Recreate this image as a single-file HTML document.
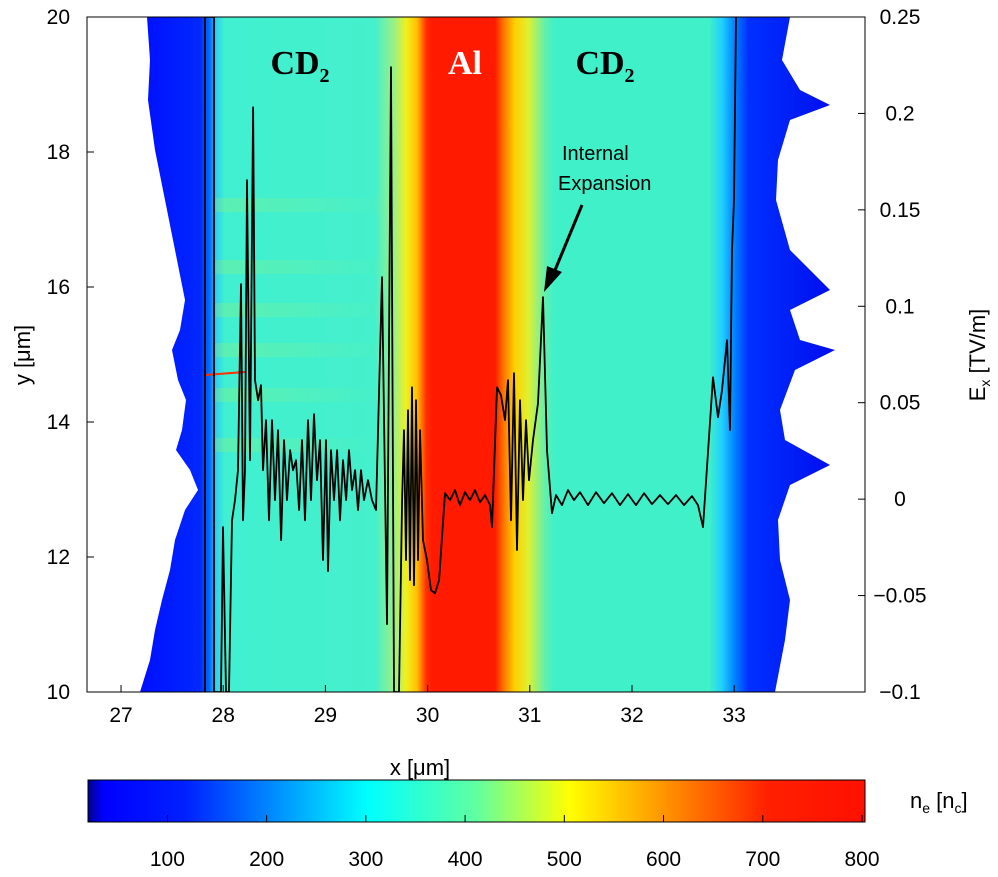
<!DOCTYPE html>
<html><head><meta charset="utf-8"><style>
html,body{margin:0;padding:0;background:#fff;}
svg{display:block;font-family:"Liberation Sans",sans-serif;}
</style></head><body>
<svg id="chart" width="998" height="877" viewBox="0 0 998 877">
<defs>
<linearGradient id="dens" gradientUnits="userSpaceOnUse" x1="87" y1="0" x2="865" y2="0">
<stop offset="0.075" stop-color="#0010ff"/><stop offset="0.145" stop-color="#0028ff"/>
<stop offset="0.158" stop-color="#0070ff"/><stop offset="0.166" stop-color="#30d0f0"/>
<stop offset="0.177" stop-color="#40f0d0"/><stop offset="0.37" stop-color="#45f0cc"/>
<stop offset="0.396" stop-color="#a0f080"/><stop offset="0.41" stop-color="#f0f020"/>
<stop offset="0.424" stop-color="#ffc000"/><stop offset="0.436" stop-color="#ff3000"/>
<stop offset="0.444" stop-color="#ff1a00"/><stop offset="0.524" stop-color="#ff1a00"/>
<stop offset="0.537" stop-color="#ff8000"/><stop offset="0.55" stop-color="#ffd000"/>
<stop offset="0.567" stop-color="#e0f030"/><stop offset="0.589" stop-color="#60f0b0"/>
<stop offset="0.601" stop-color="#40f0c8"/><stop offset="0.8" stop-color="#40f0c8"/>
<stop offset="0.816" stop-color="#20d0ff"/><stop offset="0.833" stop-color="#0080ff"/>
<stop offset="0.85" stop-color="#0030ff"/><stop offset="0.95" stop-color="#0010f0"/>
</linearGradient>
<linearGradient id="band" x1="0" y1="0" x2="1" y2="0">
<stop offset="0" stop-color="#c8f040" stop-opacity="0.6"/><stop offset="1" stop-color="#c8f040" stop-opacity="0"/>
</linearGradient>
<linearGradient id="jet" x1="0" y1="0" x2="1" y2="0">
<stop offset="0" stop-color="#00008f"/><stop offset="0.02" stop-color="#0000ff"/>
<stop offset="0.125" stop-color="#0020ff"/><stop offset="0.36" stop-color="#00ffff"/>
<stop offset="0.5" stop-color="#60ffa0"/><stop offset="0.62" stop-color="#ffff00"/>
<stop offset="0.875" stop-color="#ff2000"/><stop offset="1" stop-color="#ff1000"/>
</linearGradient>
<clipPath id="plotclip"><rect x="87" y="17" width="778" height="675"/></clipPath>
</defs>
<g clip-path="url(#plotclip)">
<rect x="87" y="17" width="778" height="675" fill="url(#dens)"/>
<g opacity="0.35">
<rect x="215" y="198" width="180" height="14" fill="url(#band)"/>
<rect x="215" y="260" width="180" height="14" fill="url(#band)"/>
<rect x="215" y="303" width="180" height="14" fill="url(#band)"/>
<rect x="215" y="343" width="180" height="14" fill="url(#band)"/>
<rect x="215" y="388" width="170" height="14" fill="url(#band)"/>
<rect x="215" y="438" width="160" height="14" fill="url(#band)"/>
</g>
<line x1="205" y1="375" x2="245" y2="372" stroke="#ff3000" stroke-width="2"/>
<path fill="#fff" d="M87,17 L147,17 L150,60 L148,100 L155,150 L165,200 L175,250 L185,300 L180,330 L172,350 L178,380 L186,400 L182,430 L176,450 L190,470 L198,490 L185,510 L175,540 L170,570 L162,600 L155,630 L150,660 L140,692 L87,692 Z"/>
<path fill="#fff" d="M865,17 L790,17 L782,60 L800,90 L830,105 L790,120 L778,160 L776,200 L790,250 L830,290 L790,310 L800,340 L835,350 L795,370 L780,410 L785,440 L830,465 L790,485 L778,520 L780,560 L790,600 L785,640 L775,692 L865,692 Z"/>
</g>
<rect x="87" y="17" width="778" height="675" fill="none" stroke="#000" stroke-width="1"/>
<g id="trace" clip-path="url(#plotclip)"></g>
<g id="axes"></g>
<text x="300" y="74" font-family="Liberation Serif,serif" font-weight="bold" font-size="34" text-anchor="middle">CD<tspan font-size="20" dy="8">2</tspan></text>
<text x="465" y="74" font-family="Liberation Serif,serif" font-weight="bold" font-size="34" fill="#fff" text-anchor="middle">Al</text>
<text x="605" y="74" font-family="Liberation Serif,serif" font-weight="bold" font-size="34" text-anchor="middle">CD<tspan font-size="20" dy="8">2</tspan></text>
<text x="562" y="160" font-size="20">Internal</text>
<text x="558" y="190" font-size="20">Expansion</text>
<g>
<line x1="582" y1="205" x2="553" y2="275" stroke="#000" stroke-width="3"/>
<polygon points="544,292 547,266 562,272" fill="#000"/>
</g>
<text x="420" y="775" font-size="22" text-anchor="middle">x [μm]</text>
<text transform="translate(30,355) rotate(-90)" font-size="22" text-anchor="middle">y [μm]</text>
<text transform="translate(985,355) rotate(-90)" font-size="22" text-anchor="middle">E<tspan font-size="14" dy="5">x</tspan><tspan dy="-5"> [TV/m]</tspan></text>
<rect x="88" y="780" width="777" height="42" fill="url(#jet)" stroke="#000" stroke-width="1"/>
<g id="cbaxis"></g>
<text x="910" y="808" font-size="22">n<tspan font-size="14" dy="5">e</tspan><tspan dy="-5"> [n</tspan><tspan font-size="14" dy="5">c</tspan><tspan dy="-5">]</tspan></text>
</svg>
<script>
const traceX=[27.822,27.822,27.910,27.910,27.978,27.998,28.027,28.057,28.086,28.115,28.145,28.174,28.194,28.213,28.233,28.262,28.292,28.311,28.341,28.370,28.389,28.419,28.448,28.477,28.507,28.536,28.566,28.595,28.624,28.654,28.683,28.712,28.742,28.771,28.800,28.830,28.859,28.888,28.918,28.947,28.976,29.006,29.025,29.055,29.084,29.114,29.143,29.172,29.202,29.231,29.260,29.290,29.319,29.348,29.378,29.417,29.456,29.495,29.554,29.603,29.642,29.671,29.720,29.750,29.769,29.789,29.808,29.828,29.847,29.867,29.886,29.906,29.926,29.955,29.994,30.033,30.072,30.112,30.170,30.219,30.268,30.317,30.366,30.415,30.464,30.513,30.562,30.611,30.630,30.679,30.718,30.757,30.787,30.816,30.845,30.875,30.904,30.933,30.963,30.992,31.031,31.080,31.129,31.168,31.217,31.256,31.315,31.374,31.432,31.491,31.569,31.648,31.726,31.804,31.883,31.961,32.039,32.118,32.196,32.274,32.352,32.431,32.509,32.587,32.646,32.695,32.793,32.842,32.881,32.930,32.959,32.979,32.998,33.018];
const traceE=[-0.1,0.25,0.25,-0.1,-0.1,-0.0145,-0.1,-0.1,-0.011,-0.0005,0.015,0.1115,-0.011,0.015,0.1654,0.0202,0.2032,0.0617,0.0513,0.0591,0.015,0.041,-0.011,0.041,-0.0005,0.0358,-0.0213,0.0306,-0.0005,0.0254,0.015,0.0202,-0.0057,0.0306,-0.011,0.041,-0.0005,0.0441,0.0098,0.0306,-0.0316,0.0306,-0.0373,0.0254,-0.0005,0.0254,-0.011,0.0202,-0.0005,0.0254,0.0047,0.015,-0.0057,0.015,-0.0005,0.0098,-0.0005,-0.0057,0.1151,-0.0648,0.224,-0.1,-0.1,-0.0005,0.0358,-0.0316,0.0461,-0.042,0.058,-0.0446,0.0513,-0.0316,0.0358,-0.0213,-0.0316,-0.0472,-0.0488,-0.042,0.0031,-0.0005,0.0047,-0.0031,0.0036,-0.0005,0.0047,-0.0016,0.0021,-0.0031,-0.0145,0.058,0.0539,0.041,0.0617,-0.011,0.0653,-0.0264,0.0513,-0.0005,0.041,0.0098,0.0306,0.0498,0.1047,0.0254,-0.0073,0.0021,-0.0031,0.0047,-0.0005,0.0036,-0.0031,0.0036,-0.0021,0.0031,-0.0031,0.0026,-0.0031,0.0031,-0.0026,0.0021,-0.0026,0.0021,-0.0031,0.0016,-0.0031,-0.0145,0.0632,0.0425,0.0565,0.0824,0.0358,0.1291,0.155,0.25];
const xTicks=[27,28,29,30,31,32,33];
const yTicks=[10,12,14,16,18,20];
const eTicks=[-0.1,-0.05,0,0.05,0.1,0.15,0.2,0.25];
const eTickLabels=["\u22120.1","\u22120.05","0","0.05","0.1","0.15","0.2","0.25"];
const cbTicks=[100,200,300,400,500,600,700,800];
const NS="http://www.w3.org/2000/svg";
const L=87,R=865,T=17,B=692;
const X0=26.667,X1=34.28,Y0=10,Y1=20,E0=-0.1,E1=0.25,C0=20,C1=803;
function sx(v){return L+(v-X0)/(X1-X0)*(R-L);}
function sy(v){return B-(v-Y0)/(Y1-Y0)*(B-T);}
function se(v){return B-(v-E0)/(E1-E0)*(B-T);}
function sc(v){return 88+(v-C0)/(C1-C0)*777;}
function mk(tag,attrs,parent){const e=document.createElementNS(NS,tag);for(const k in attrs)e.setAttribute(k,attrs[k]);parent.appendChild(e);return e;}
const tg=document.getElementById('trace');
const pl=mk('polyline',{points:traceX.map((x,i)=>sx(x).toFixed(1)+','+se(traceE[i]).toFixed(1)).join(' '),fill:'none',stroke:'#000','stroke-width':'1.8','stroke-linejoin':'round'},tg);


const ax=document.getElementById('axes');
xTicks.forEach(v=>{
 const x=sx(v);
 const t=mk('line',{x1:x,x2:x,y1:B,y2:B-7,stroke:'#000'},ax);
 
 
 const lb=mk('text',{x:x,y:B+30,'font-size':21,'text-anchor':'middle'},ax);lb.textContent=v;
 
 
});
yTicks.forEach(v=>{
 const y=sy(v);
 const t=mk('line',{x1:L,x2:L+7,y1:y,y2:y,stroke:'#000'},ax);
 
 
 const lb=mk('text',{x:L-17,y:y+7,'font-size':21,'text-anchor':'end'},ax);lb.textContent=v;
 
 
});
eTicks.forEach((v,i)=>{
 const y=se(v);
 const t=mk('line',{x1:R-7,x2:R,y1:y,y2:y,stroke:'#000'},ax);
 
 
 const lb=mk('text',{x:900,y:y+7,'font-size':21,'text-anchor':'middle'},ax);lb.textContent=eTickLabels[i];
 
 
});
const cb=document.getElementById('cbaxis');
cbTicks.forEach(v=>{
 const x=sc(v);
 const t=mk('line',{x1:x,x2:x,y1:822,y2:815,stroke:'#000'},cb);
 
 
 const lb=mk('text',{x:x,y:866,'font-size':21,'text-anchor':'middle'},cb);lb.textContent=v;
 
 
});
</script>
</body></html>
